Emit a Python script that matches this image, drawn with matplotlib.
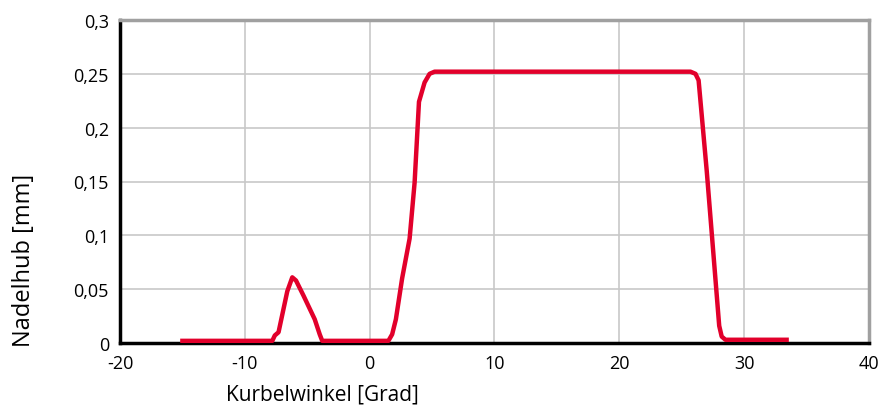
import numpy as np
import matplotlib.pyplot as plt
from matplotlib.ticker import FuncFormatter

plt.rcParams['font.family'] = ['Open Sans', 'DejaVu Sans']
plt.rcParams['axes.unicode_minus'] = False

#================================================================================================
# DATA (Kurbelwinkel in Grad, Nadelhub in mm)
#================================================================================================
winkel = [-15.0, -7.8, -7.6, -7.3, -6.6, -6.2, -5.9, -5.3, -4.4, -4.0, -3.8,
          1.5, 1.8, 2.1, 2.6, 3.2, 3.6, 3.95, 4.4, 4.8, 5.2,
          25.7, 26.1, 26.35, 27.0, 28.0, 28.2, 28.5, 33.4]
hub = [0.002, 0.002, 0.007, 0.010, 0.048, 0.061, 0.058, 0.044, 0.022, 0.008, 0.002,
       0.002, 0.008, 0.022, 0.060, 0.097, 0.149, 0.224, 0.242, 0.250, 0.252,
       0.252, 0.250, 0.244, 0.160, 0.016, 0.006, 0.003, 0.003]

xticks = [-20, -10, 0, 10, 20, 30, 40]
yticks = [0, 0.05, 0.1, 0.15, 0.2, 0.25, 0.3]

#================================================================================================
# PLOT
#================================================================================================
fig = plt.figure(figsize=(8.83, 4.10), dpi=100)
ax = fig.add_axes([120/883, 1-344/410, 749/883, 323/410])

ax.plot(winkel, hub, color='#e2002b', lw=3.2, solid_joinstyle='round', zorder=3)

ax.set_xlim(-20, 40)
ax.set_ylim(0, 0.3)
ax.set_xticks(xticks)
ax.set_yticks(yticks)
ax.yaxis.set_major_formatter(FuncFormatter(lambda v, p: ('%g' % round(v, 3)).replace('.', ',')))
ax.tick_params(length=0, labelsize=13, pad=8)
ax.grid(True, color='#c8c8c8', lw=1.2)
ax.set_axisbelow(True)

for s in ['left', 'bottom']:
    ax.spines[s].set_color('black')
    ax.spines[s].set_linewidth(2.5)
for s in ['top', 'right']:
    ax.spines[s].set_color('#a0a0a0')
    ax.spines[s].set_linewidth(2.5)

ax.set_xlabel('Kurbelwinkel [Grad]', fontsize=15)
ax.set_ylabel('Nadelhub [mm]', fontsize=17)
ax.xaxis.set_label_coords(0.27, -0.125)
ax.yaxis.set_label_coords(-0.112, 0.26)

fig.savefig('out.png', dpi=100)
